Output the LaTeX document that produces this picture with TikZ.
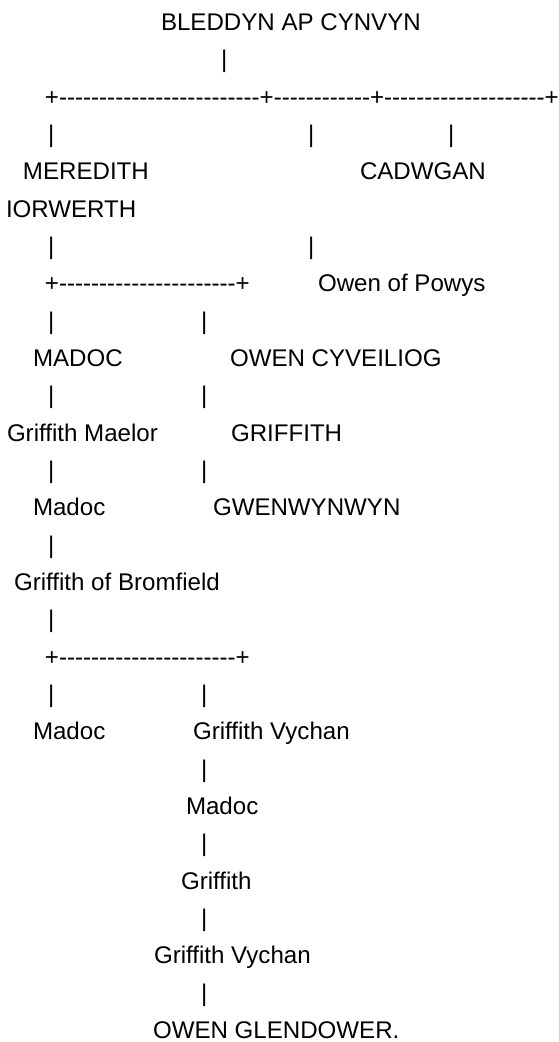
\documentclass[tikz,border=0pt]{standalone}
\usepackage{fontspec}
\setmainfont{Liberation Sans}
\tikzset{
  txt/.style={anchor=base west, inner sep=0pt, outer sep=0pt, font=\fontsize{24.1}{28}\selectfont},
}
\newcommand\ry[1]{{-30.6-37.33*#1}}
\newcommand\hyph[1]{\foreach\i in {1,...,#1}{-\kern0pt}}
\begin{document}
\begin{tikzpicture}[x=1pt,y=1pt]
\useasboundingbox (0,0) rectangle (559,-1042);
% row 0
\node[txt] (bleddyn) at (161,\ry{0}) {BLEDDYN AP CYNVYN};
% row 1
\node[txt] (b1) at (221,\ry{1}) {|};
% row 2
\node[txt] (split1) at (45,\ry{2}) {+\hyph{25}+\hyph{12}+\hyph{20}+};
% row 3
\node[txt] (b3a) at (48,\ry{3}) {|};
\node[txt] (b3b) at (308,\ry{3}) {|};
\node[txt] (b3c) at (448,\ry{3}) {|};
% row 4
\node[txt] (meredith) at (23,\ry{4}) {MEREDITH};
\node[txt] (cadwgan) at (360,\ry{4}) {CADWGAN};
% row 5
\node[txt] (iorwerth) at (6,\ry{5}) {IORWERTH};
% row 6
\node[txt] (b6a) at (48,\ry{6}) {|};
\node[txt] (b6b) at (308,\ry{6}) {|};
% row 7
\node[txt] (split2) at (45,\ry{7}) {+\hyph{22}+};
\node[txt] (owenpowys) at (318,\ry{7}) {Owen of Powys};
% row 8
\node[txt] (b8a) at (48,\ry{8}) {|};
\node[txt] (b8b) at (201,\ry{8}) {|};
% row 9
\node[txt] (madoc1) at (33,\ry{9}) {MADOC};
\node[txt] (owency) at (230,\ry{9}) {OWEN CYVEILIOG};
% row 10
\node[txt] (b10a) at (48,\ry{10}) {|};
\node[txt] (b10b) at (201,\ry{10}) {|};
% row 11
\node[txt] (grmaelor) at (7,\ry{11}) {Griffith Maelor};
\node[txt] (griffithU) at (231,\ry{11}) {GRIFFITH};
% row 12
\node[txt] (b12a) at (48,\ry{12}) {|};
\node[txt] (b12b) at (201,\ry{12}) {|};
% row 13
\node[txt] (madoc2) at (33,\ry{13}) {Madoc};
\node[txt] (gwen) at (213,\ry{13}) {GWENWYNWYN};
% row 14
\node[txt] (b14) at (48,\ry{14}) {|};
% row 15
\node[txt] (grbrom) at (14,\ry{15}) {Griffith of Bromfield};
% row 16
\node[txt] (b16) at (48,\ry{16}) {|};
% row 17
\node[txt] (split3) at (45,\ry{17}) {+\hyph{22}+};
% row 18
\node[txt] (b18a) at (48,\ry{18}) {|};
\node[txt] (b18b) at (201,\ry{18}) {|};
% row 19
\node[txt] (madoc3) at (33,\ry{19}) {Madoc};
\node[txt] (grvych1) at (193,\ry{19}) {Griffith Vychan};
% row 20
\node[txt] (b20) at (201,\ry{20}) {|};
% row 21
\node[txt] (madoc4) at (186,\ry{21}) {Madoc};
% row 22
\node[txt] (b22) at (201,\ry{22}) {|};
% row 23
\node[txt] (griffith2) at (181,\ry{23}) {Griffith};
% row 24
\node[txt] (b24) at (201,\ry{24}) {|};
% row 25
\node[txt] (grvych2) at (154,\ry{25}) {Griffith Vychan};
% row 26
\node[txt] (b26) at (201,\ry{26}) {|};
% row 27
\node[txt] (owengl) at (153,\ry{27}) {OWEN GLENDOWER.};
\end{tikzpicture}
\end{document}
